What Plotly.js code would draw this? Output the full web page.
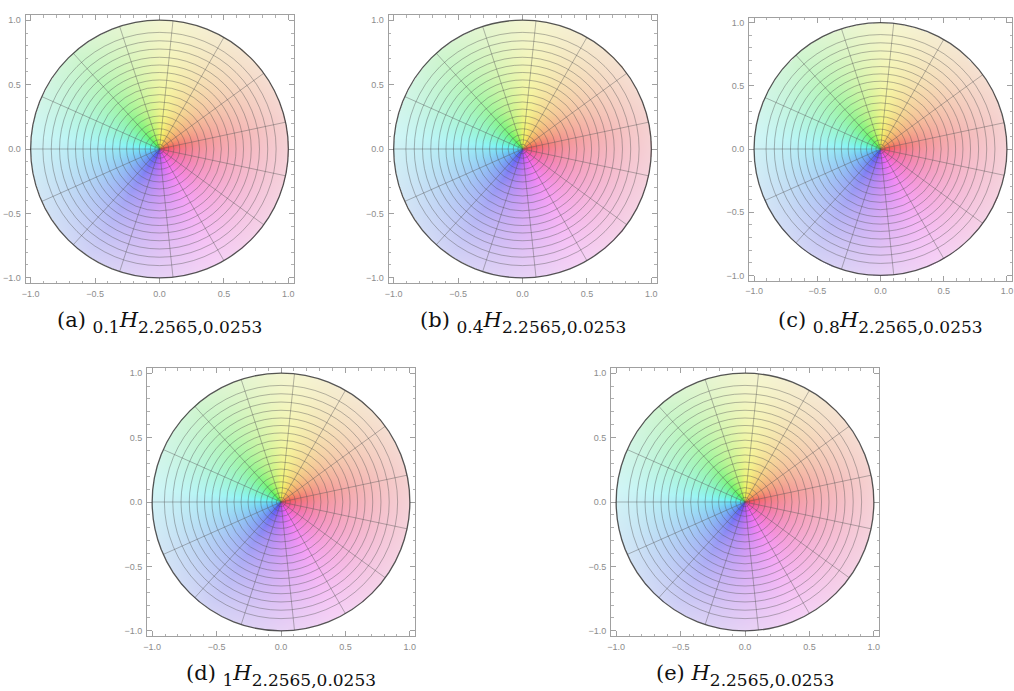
<!DOCTYPE html>
<html>
<head>
<meta charset="utf-8">
<script src="https://cdn.plot.ly/plotly-3.0.1.min.js"></script>
<style>html,body{margin:0;padding:0;background:#fff}#chart{width:1014px;height:691px}</style>
</head>
<body>
<div id="chart"></div>
<script>
// ---- data ----
const panelLabels = ['(a)', '(b)', '(c)', '(d)', '(e)'];
const panelOrders = ['0.1', '0.4', '0.8', '1', ''];
const paramText = '2.2565,0.0253';
const spokeAnglesDeg = [12, 36, 60, 84, 108, 132, 156, 180, 204, 228, 252, 276, 300, 324, 348];
const circleRadii = [0.036, 0.072, 0.112, 0.157, 0.205, 0.256, 0.31, 0.365, 0.422, 0.48, 0.536, 0.594, 0.652, 0.712, 0.776, 0.84, 0.905];
const boundaryRadius = 1.0;
const tickVals = [-1, -0.5, 0, 0.5, 1];
const tickText = ['\u22121.0', '\u22120.5', '0.0', '0.5', '1.0'];
// colour wheel: argument (deg) -> hue (deg)
const argStops = [0, 45, 90, 135, 180, 225, 270, 315, 360];
const hueStops = [352, 390, 425, 485, 548, 588, 635, 678, 712];

// ---- layout geometry (pixels) ----
const W = 1014, H = 691;
const frames = [
  {l: 25, r: 294, t: 15, b: 283},
  {l: 388, r: 657, t: 15, b: 283},
  {l: 749, r: 1012, t: 15, b: 283},
  {l: 147, r: 415, t: 368, b: 636},
  {l: 611, r: 879, t: 368, b: 636}
];
const R = 1.04;

function hsv(h, s, v) {
  h = ((h % 360) + 360) % 360 / 60;
  const i = Math.floor(h), f = h - i;
  const p = v * (1 - s), q = v * (1 - s * f), t = v * (1 - s * (1 - f));
  switch (i) {
    case 0: return [v, t, p];
    case 1: return [q, v, p];
    case 2: return [p, v, t];
    case 3: return [p, q, v];
    case 4: return [t, p, v];
    default: return [v, p, q];
  }
}
function hueOf(a) {
  for (let k = 0; k < argStops.length - 1; k++) {
    if (a <= argStops[k + 1]) {
      const u = (a - argStops[k]) / (argStops[k + 1] - argStops[k]);
      return hueStops[k] + u * (hueStops[k + 1] - hueStops[k]);
    }
  }
  return hueStops[hueStops.length - 1];
}

// domain-colouring image (hue = argument, paleness = modulus)
const N = 272;
const step = 2 * R / N;
const img = [];
for (let j = 0; j < N; j++) {
  const y = -R + (j + 0.5) * step;
  const row = [];
  for (let i = 0; i < N; i++) {
    const x = -R + (i + 0.5) * step;
    const rr = Math.hypot(x, y);
    if (rr > 1.0) { row.push([255, 255, 255, 0]); continue; }
    let ang = Math.atan2(y, x) * 180 / Math.PI;
    if (ang < 0) ang += 360;
    const base = hsv(hueOf(ang), 0.92, 0.95);
    const t = 0.84 * Math.pow(rr, 0.36);
    const wc = 0.965;
    row.push([
      Math.round(255 * (base[0] * (1 - t) + wc * t)),
      Math.round(255 * (base[1] * (1 - t) + wc * t)),
      Math.round(255 * (base[2] * (1 - t) + wc * t)),
      255
    ]);
  }
  img.push(row);
}

const data = [];
const layout = {
  width: W, height: H,
  margin: {l: 0, r: 0, t: 0, b: 0},
  paper_bgcolor: '#fff', plot_bgcolor: 'rgba(0,0,0,0)',
  showlegend: false,
  shapes: [], annotations: []
};

frames.forEach((f, k) => {
  const n = k === 0 ? '' : String(k + 1);
  const xa = 'x' + n, ya = 'y' + n;
  const axCommon = {
    range: [-R, R], autorange: false, fixedrange: true,
    tickvals: tickVals, ticktext: tickText,
    ticks: 'inside', ticklen: 5, tickwidth: 1, tickcolor: '#a0a0a0',
    minor: {dtick: 0.1, tick0: 0, ticks: 'inside', ticklen: 2.5, tickcolor: '#b0b0b0', showgrid: false},
    showline: true, linecolor: '#a0a0a0', linewidth: 1, mirror: 'ticks',
    showgrid: false, zeroline: false, ticklabeloverflow: 'allow',
    tickfont: {family: 'Liberation Sans, Arial, sans-serif', size: 9, color: '#8c8c8c'}
  };
  layout['xaxis' + n] = Object.assign({}, axCommon, {
    domain: [f.l / W, f.r / W], anchor: ya, ticklabelstandoff: 2
  });
  layout['yaxis' + n] = Object.assign({}, axCommon, {
    domain: [1 - f.b / H, 1 - f.t / H], anchor: xa, ticklabelstandoff: 2
  });

  data.push({
    type: 'image', z: img, colormodel: 'rgba',
    x0: -R + step / 2, dx: step, y0: -R + step / 2, dy: step,
    xaxis: xa, yaxis: ya, hoverinfo: 'skip'
  });

  const meshLine = {color: 'rgba(85,85,85,0.42)', width: 1};
  circleRadii.forEach(r => {
    layout.shapes.push({
      type: 'circle', xref: xa, yref: ya, x0: -r, x1: r, y0: -r, y1: r, line: meshLine
    });
  });
  spokeAnglesDeg.forEach(a => {
    const rad = a * Math.PI / 180;
    layout.shapes.push({
      type: 'line', xref: xa, yref: ya, x0: 0, y0: 0,
      x1: boundaryRadius * Math.cos(rad), y1: boundaryRadius * Math.sin(rad), line: meshLine
    });
  });
  layout.shapes.push({
    type: 'circle', xref: xa, yref: ya,
    x0: -boundaryRadius, x1: boundaryRadius, y0: -boundaryRadius, y1: boundaryRadius,
    line: {color: 'rgba(55,55,55,0.85)', width: 1.3}
  });

  const sub = s => '<span style="font-size:17px;baseline-shift:-6px">' + s + '</span>';
  const order = panelOrders[k] ? sub(panelOrders[k]) : '';
  layout.annotations.push({
    xref: 'paper', yref: 'paper',
    x: ((f.l + f.r) / 2) / W, y: 1 - (f.b + 39) / H,
    xanchor: 'center', yanchor: 'middle', showarrow: false,
    text: panelLabels[k] + ' ' + order + '<i>H</i>' + sub(paramText),
    font: {family: 'DejaVu Serif, Liberation Serif, serif', size: 21, color: '#111'}
  });
});

Plotly.newPlot('chart', data, layout, {staticPlot: true, displayModeBar: false});
</script>
</body>
</html>
